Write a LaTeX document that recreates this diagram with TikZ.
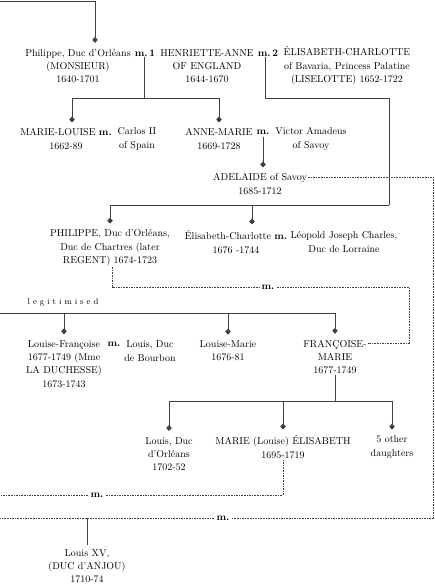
\documentclass[tikz,border=0pt]{standalone}
\usetikzlibrary{arrows.meta, calc}

\begin{document}
\begin{tikzpicture}[
    % GLOBAL CFG
    x=1pt, y=-1pt,
    % Styles
    person/.style={% For the names
        align=center,
        inner sep=1pt,
        text=black,
        font=\fontsize{10}{13.3}\selectfont,
        },
    mlabel/.style={% For the m. labels
        inner sep=2.5pt,
        text=black,
        font=\fontsize{10}{13.3}\selectfont\bfseries,
        },
    link/.style={% Solid lines
        draw=black!75,
        line width=0.8pt,
        },
    kid/.style={% Lines ending in a diamond
        link,
        -{Diamond[length=6pt,width=5.5pt]},
        shorten >=5pt,
        },
    marriage/.style={% Dashed lines for marriages
        draw=black!75,
        line width=0.7pt,
        dash pattern=on 1.6pt off 1pt,
        },
    ]
\useasboundingbox (0,0) rectangle (435,586);
% Draw the first generation
\node [person] (phil) at (78,66) {Philippe, Duc d'Orléans\\(MONSIEUR)\\1640-1701};
\node [mlabel, inner sep=1pt] (m1) at (145,53) {m.\,1};
\node [person] (henr) at (207,66) {HENRIETTE-ANNE\\OF ENGLAND\\1644-1670};
\node [mlabel, inner sep=1pt] (m2) at (268,53) {m.\,2};
\node [person] (elis) at (347,66) {ÉLISABETH-CHARLOTTE\\of Bavaria, Princess Palatine\\(LISELOTTE) 1652-1722};
% Draw the children of the first marriage
\node [person] (mlou) at (66,139) {MARIE-LOUISE \textbf{m.}\\1662-89};
\node [person] (carl) at (137,139) {Carlos II\\of Spain};
\node [person] (anne) at (219,139) {ANNE-MARIE\\1669-1728};
\node [mlabel] (m3) at (263,132) {m.};
\node [person] (vict) at (311,139) {Victor Amadeus\\of Savoy};
\node [person] (adel) at (260,184) {ADELAIDE of Savoy\\1685-1712};
% Draw the children of the second marriage
\node [person] (phpr) at (110,248) {PHILIPPE, Duc d'Orléans,\\Duc de Chartres (later\\REGENT) 1674-1723};
\node [person] (eche) at (236,242) {Élisabeth-Charlotte \textbf{m.}\\1676 -1744};
\node [person] (leop) at (344,242) {Léopold Joseph Charles,\\Duc de Lorraine};
% Draw the legitimised children
\node [text=black, font=\fontsize{8.5}{10}\selectfont] (legi) at (63,302)
    {l\kern3pt e\kern3pt g\kern3pt i\kern3pt t\kern3pt i\kern3pt m\kern3pt i\kern3pt s\kern3pt e\kern3pt d};
\node [person] (lfra) at (64,364) {Louise-Françoise\\1677-1749 (Mme\\LA DUCHESSE)\\1673-1743};
\node [mlabel] (m4) at (114,344) {m.};
\node [person] (lbou) at (150,351) {Louis, Duc\\de Bourbon};
\node [person] (lmar) at (228,351) {Louise-Marie\\1676-81};
\node [person] (fmar) at (335,357) {FRANÇOISE-\\MARIE\\1677-1749};
% Draw the grandchildren
\node [person] (lduc) at (169,454) {Louis, Duc\\d'Orléans\\1702-52};
\node [person] (mlel) at (283,447) {MARIE (Louise) ÉLISABETH\\1695-1719};
\node [person] (oth) at (392,447) {5 other\\daughters};
\node [person] (lxv) at (87,566) {Louis XV,\\(DUC d'ANJOU)\\1710-74};
% Marriage labels on the dashed lines
\node [mlabel] (m7) at (268,287) {m.};
\node [mlabel] (m5) at (97,495) {m.};
\node [mlabel] (m6) at (223,518) {m.};
% Junctions
\coordinate (tl) at (0,1);
\coordinate (j1) at (144,98);
\coordinate (j2) at (265,98);
\coordinate (j3) at (389,98);
\coordinate (j4) at (389,205);
\coordinate (lj) at (0,313);
\coordinate (j7) at (335,401);
\coordinate (jd) at (409,343);
\coordinate (jr) at (433,518);
\coordinate (lm) at (0,495);
\coordinate (lb) at (0,518);
% Start connecting all.
\draw [kid] (tl) -| ([xshift=17pt]phil.north);
\draw [link] (j1 |- m1.south) -- (j1);
\draw [kid] (j1) -| ([xshift=6pt]mlou.north);
\draw [kid] (j1) -| (anne.north);
\draw [kid] (m3.south) -- (m3.south |- adel.north);
\draw [link] (j2 |- m2.south) -- (j2) -- (j3) -- (j4);
\draw [kid] (j4) -| (phpr.north);
\draw [kid] (j4) -| ([xshift=16pt]eche.north);
% Legitimised line
\draw [link] (lj) -- (lj -| fmar.north);
\draw [kid] (lj -| lfra.north) -- (lfra.north);
\draw [kid] (lj -| lmar.north) -- (lmar.north);
\draw [kid] (lj -| fmar.north) -- (fmar.north);
\draw [link] (fmar.south) -- (j7);
\draw [link] (j7 -| lduc.north) -- (j7 -| oth.north);
\draw [kid] (j7 -| lduc.north) -- (lduc.north);
\draw [kid] (j7 -| mlel.north) -- (mlel.north);
\draw [kid] (j7 -| oth.north) -- (oth.north);
% Marriages
\draw [marriage] ([xshift=2pt]phpr.south) |- (m7) -| (jd) -- (jd -| fmar.east);
\draw [marriage] (mlel.south) |- (m5) -- (lm);
\draw [marriage] ([yshift=7pt]adel.east) -| (jr) -- (m6) -- (lb);
\draw [link, shorten >=3pt] (lxv.north |- jr) -- (lxv.north);
\end{tikzpicture}
\end{document}
